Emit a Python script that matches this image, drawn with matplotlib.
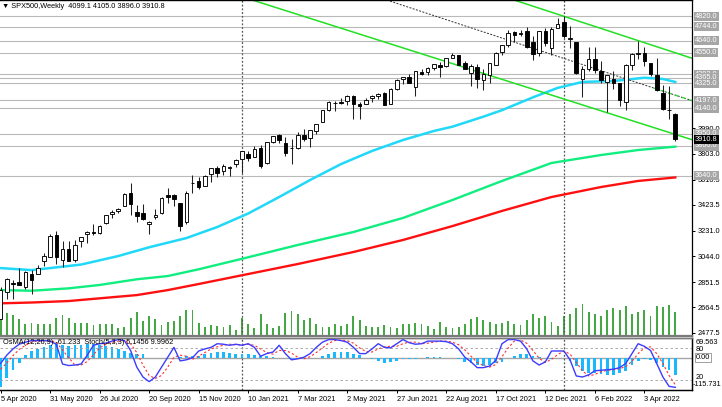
import numpy as np
import pandas as pd
import matplotlib
matplotlib.use("Agg")
import matplotlib.pyplot as plt

plt.rcParams['font.family'] = ['Liberation Sans', 'DejaVu Sans']
plt.rcParams['font.size'] = 5.3

W, H = 722, 407
FS = 5.3

# --- DATA: SPX500 weekly bars, first bar = week of 5 Apr 2020 ---
start_week = "2020-04-05"
opens = [2578, 2782, 2846, 2854, 2815, 2915, 2913, 3005, 3038, 3199,
         3015, 3094, 3018, 3155, 3205, 3224, 3219, 3288, 3356, 3380,
         3418, 3509, 3371, 3363, 3285, 3333, 3367, 3500, 3494, 3441,
         3296, 3583, 3600, 3567, 3654, 3694, 3675, 3694, 3723, 3764,
         3803, 3781, 3842, 3731, 3892, 3939, 3885, 3842, 3844, 3942,
         3916, 3969, 4034, 4124, 4179, 4185, 4192, 4228, 4169, 4170,
         4216, 4229, 4249, 4174, 4284, 4356, 4373, 4296, 4409, 4407,
         4437, 4461, 4450, 4513, 4535, 4474, 4402, 4442, 4348, 4385,
         4463, 4553, 4610, 4701, 4689, 4712, 4628, 4548, 4711, 4587,
         4733, 4778, 4655, 4632, 4356, 4431, 4505, 4412, 4332, 4354,
         4327, 4188, 4462, 4541, 4547, 4474, 4385, 4255, 4130, 4099.1]
highs = [2818, 2879, 2869, 2954, 2932, 2945, 2980, 3068, 3211, 3233,
         3155, 3155, 3165, 3186, 3233, 3280, 3272, 3352, 3387, 3399,
         3509, 3588, 3425, 3428, 3306, 3393, 3482, 3550, 3502, 3441,
         3529, 3645, 3628, 3644, 3699, 3712, 3726, 3711, 3760, 3826,
         3823, 3861, 3870, 3887, 3935, 3950, 3929, 3915, 3960, 3983,
         3978, 4020, 4130, 4191, 4195, 4218, 4238, 4238, 4187, 4213,
         4235, 4250, 4257, 4286, 4355, 4372, 4393, 4415, 4429, 4441,
         4468, 4480, 4509, 4545, 4536, 4486, 4466, 4466, 4429, 4475,
         4559, 4608, 4718, 4714, 4717, 4743, 4672, 4712, 4731, 4740,
         4808, 4819, 4749, 4632, 4454, 4595, 4590, 4490, 4385, 4416,
         4327, 4465, 4546, 4637, 4593, 4475, 4513, 4308, 4307, 4105.0]
lows = [2576, 2730, 2727, 2830, 2798, 2766, 2913, 2969, 3038, 2984,
        2965, 3005, 3000, 3115, 3142, 3200, 3209, 3284, 3325, 3363,
        3418, 3349, 3294, 3313, 3209, 3323, 3354, 3441, 3419, 3233,
        3279, 3511, 3543, 3565, 3594, 3633, 3648, 3636, 3707, 3663,
        3749, 3775, 3694, 3726, 3880, 3885, 3789, 3723, 3836, 3894,
        3853, 3949, 4034, 4119, 4118, 4168, 4160, 4056, 4061, 4170,
        4188, 4210, 4164, 4174, 4278, 4320, 4327, 4233, 4383, 4385,
        4425, 4367, 4448, 4513, 4458, 4428, 4306, 4288, 4278, 4329,
        4460, 4537, 4595, 4630, 4672, 4585, 4495, 4529, 4600, 4531,
        4733, 4662, 4582, 4395, 4222, 4415, 4401, 4327, 4114, 4279,
        4157, 4129, 4424, 4507, 4450, 4381, 4268, 4124, 4062, 3896.0]
closes = [2790, 2875, 2837, 2831, 2930, 2864, 2955, 3044, 3194, 3041,
          3098, 3009, 3130, 3185, 3225, 3216, 3271, 3351, 3373, 3397,
          3508, 3427, 3341, 3319, 3298, 3348, 3477, 3484, 3465, 3270,
          3509, 3585, 3558, 3638, 3699, 3663, 3709, 3703, 3756, 3825,
          3768, 3841, 3714, 3887, 3935, 3907, 3811, 3842, 3943, 3913,
          3975, 4020, 4129, 4185, 4180, 4181, 4233, 4174, 4156, 4204,
          4230, 4247, 4166, 4281, 4352, 4370, 4327, 4412, 4395, 4437,
          4468, 4442, 4509, 4535, 4459, 4433, 4455, 4357, 4391, 4471,
          4545, 4605, 4698, 4683, 4698, 4595, 4538, 4712, 4621, 4726,
          4766, 4677, 4663, 4398, 4432, 4501, 4419, 4349, 4385, 4329,
          4204, 4463, 4543, 4546, 4488, 4393, 4272, 4132, 4123, 3910.8]
# tick volume (thousands)
volume = [220, 230, 210, 170, 120, 130, 120, 120, 120, 180,
          210, 180, 130, 130, 130, 110, 120, 120, 120, 80,
          90, 180, 240, 150, 200, 170, 110, 140, 150, 200,
          260, 260, 130, 90, 110, 100, 90, 110, 60,
          180, 120, 80, 220, 120, 80, 100, 230, 250, 220,
          160, 180, 120, 90, 90, 120, 100, 120, 200, 160,
          100, 90, 90, 110, 90, 80, 120, 120, 130, 120,
          100, 70, 140, 90, 80, 90, 120, 170, 190,
          160, 140, 120, 130, 150, 120, 110, 160, 220, 180,
          200, 140, 100, 200, 220, 280, 320, 240, 220, 200,
          260, 280, 260, 300, 220, 240, 260, 200, 300, 290,
          310, 240]

# moving averages (week index, price)
ma_fast_week = [0, 5, 8, 13, 19, 24, 30, 35, 40, 45, 50, 55, 60, 65, 70, 73,
                78, 81, 86, 90, 94, 99, 104, 107, 109]
ma_fast = [2956, 2941, 2956, 2982, 3045, 3110, 3178, 3260, 3360, 3482, 3608,
           3726, 3823, 3904, 3971, 4003, 4077, 4125, 4220, 4290, 4334, 4341,
           4365, 4356, 4334]
ma_mid_week = [0, 5, 11, 16, 22, 27, 32, 40, 48, 57, 65, 73, 81, 89, 97, 103, 109]
ma_mid = [2793, 2788, 2806, 2831, 2873, 2897, 2947, 3036, 3127, 3223, 3327,
          3460, 3601, 3734, 3793, 3830, 3855]
ma_slow_week = [0, 5, 11, 16, 22, 27, 32, 40, 48, 57, 65, 73, 81, 89, 97, 103, 109]
ma_slow = [2695, 2701, 2712, 2732, 2756, 2793, 2838, 2912, 2986, 3075, 3164,
           3267, 3379, 3482, 3556, 3601, 3627]

# channel lines (week index, price)
channel_upper_week, channel_upper = [83, 112], [4940, 4505]
channel_lower_week, channel_lower = [40.7, 112], [4940, 3902]
channel_mid_week, channel_mid = [62.4, 112], [4940, 4191]
channel_mid_tail_week, channel_mid_tail = [105.5, 112], [4289, 4191]

levels = [4820.0, 4744.0, 4640.0, 4550.0, 4392.0, 4365.0, 4325.0, 4197.0,
          4140.0, 3950.0, 3860.0, 3640.0]
price_ticks = [2477.5, 2664.5, 2851.5, 3044.0, 3231.0, 3423.5, 3610.5, 3803.0, 3990.0]
last_price = 3910.8

osma = [-104, -74, -45, -21, 10, 23, 31, 39, 46, 51,
        44, 42, 44, 46, 49, 49, 46, 42, 38, 31,
        23, 16, 14, 12, 0, -3, -2, -1, 0, 1,
        4, 5, 7, 12, 17, 19, 19, 17, 14, 12,
        12, 10, 7, 5, 2, -2, -3, -4, -4, -4,
        -2, 0, 7, 12, 18, 21, 18, 14, 10, -3,
        -7, -12, -18, -15, -12, -7, -7, -4, -2, 1,
        2, 1, -1, -3, -7, -15, -21, -27, -31, -27,
        -21, -15, -3, 7, 12, 12, 7, 2, -2, -4,
        -3, -2, -12, -31, -47, -54, -56, -58, -62, -62,
        -56, -47, -27, -12, -4, -9, -21, -35, -43, -61.233]
stoch_main = [51, 67, 79, 88, 92, 95, 95, 95, 94, 88,
              50, 47, 48, 50, 67, 86, 89, 90, 94, 97,
              95, 76, 44, 25, 16, 25, 44, 63, 82, 56,
              58, 62, 75, 79, 82, 89, 88, 86, 88, 86,
              89, 82, 65, 70, 73, 86, 70, 58, 60, 63,
              70, 82, 92, 97, 97, 95, 92, 82, 70, 70,
              79, 89, 82, 81, 89, 97, 91, 88, 89, 94,
              94, 94, 93, 89, 79, 63, 54, 43, 43, 46,
              57, 89, 97, 97, 94, 79, 56, 48, 54, 75,
              75, 75, 58, 27, 25, 29, 37, 38, 39, 40,
              43, 51, 70, 89, 84, 76, 51, 25, 7, 5.1456]
stoch_signal = [40, 52, 66, 78, 86, 92, 94, 95, 95, 92,
                77, 62, 48, 48, 55, 68, 81, 88, 91, 94,
                95, 89, 72, 48, 28, 22, 28, 44, 63, 67,
                65, 59, 65, 72, 79, 83, 86, 88, 87, 87,
                88, 86, 79, 72, 69, 76, 76, 71, 63, 60,
                64, 72, 81, 90, 95, 96, 95, 90, 81, 74,
                73, 79, 83, 84, 84, 89, 92, 92, 89, 90,
                92, 94, 94, 92, 87, 77, 65, 53, 47, 44,
                49, 64, 81, 94, 96, 90, 76, 61, 53, 59,
                68, 75, 69, 53, 37, 27, 30, 35, 38, 39,
                41, 45, 55, 70, 81, 83, 70, 51, 28, 9.9962]

date_label_week = [0, 8, 16, 24, 32, 40, 48, 56, 64, 72, 80, 88, 96, 104]
date_labels = ["5 Apr 2020", "31 May 2020", "26 Jul 2020", "20 Sep 2020",
               "15 Nov 2020", "10 Jan 2021", "7 Mar 2021", "2 May 2021",
               "27 Jun 2021", "22 Aug 2021", "17 Oct 2021", "12 Dec 2021",
               "6 Feb 2022", "3 Apr 2022"]

weeks = pd.date_range(start_week, periods=len(closes), freq="W-SUN")
idx = np.arange(len(closes))
o, h, l, c = (np.array(a, dtype=float) for a in (opens, highs, lows, closes))
year_breaks = [i for i in range(1, len(weeks)) if weeks[i].year != weeks[i - 1].year]

X0, X1 = -0.1, 111.7


def px_rect(x0, y0, x1, y1):
    return [x0 / W, 1 - y1 / H, (x1 - x0) / W, (y1 - y0) / H]


fig = plt.figure(figsize=(W / 100, H / 100), dpi=100)

# --- volume layer (behind) ---
ax_v = fig.add_axes(px_rect(0, 0, 692, 336))
ax_v.bar(idx, volume, width=0.3, color='#45a845')
ax_v.set_xlim(X0, X1)
ax_v.set_ylim(0, 3360)
ax_v.axis('off')

# --- main price panel ---
ax = fig.add_axes(px_rect(0, 0, 692, 336))
ax.patch.set_visible(False)
ax.set_xlim(X0, X1)
ax.set_ylim(2453.1, 4940.7)

for lvl in levels:
    ax.axhline(lvl, color='#b9b9b9', lw=0.8, zorder=1)
for yb in year_breaks:
    ax.axvline(yb, color='#555555', lw=0.9, ls=(0, (1.5, 1.5)), zorder=1)

ax.plot(ma_slow_week, ma_slow, color='#ff1010', lw=1.7, zorder=2)
ax.plot(ma_mid_week, ma_mid, color='#10ee80', lw=1.7, zorder=2)
ax.plot(ma_fast_week, ma_fast, color='#20d8f8', lw=1.8, zorder=2)

ax.plot(channel_upper_week, channel_upper, color='#22e022', lw=1.1, zorder=2)
ax.plot(channel_lower_week, channel_lower, color='#22e022', lw=1.1, zorder=2)
ax.plot(channel_mid_week, channel_mid, color='#303030', lw=0.7, ls=(0, (2, 1.5)), zorder=2)
ax.plot(channel_mid_tail_week, channel_mid_tail, color='#22e022', lw=0.9,
        ls=(0, (3, 3)), zorder=2)

up = c >= o
ax.vlines(idx, l, h, color='#202020', lw=0.75, zorder=4)
ax.bar(idx, np.maximum(np.abs(c - o), 2), bottom=np.minimum(o, c), width=0.58,
       color=np.where(up, 'white', 'black'), edgecolor='black', lw=0.65, zorder=5)

ax.set_xticks([])
ax.yaxis.tick_right()
ax.set_yticks(price_ticks)
ax.set_yticklabels([f"{t:.1f}" for t in price_ticks])
ax.tick_params(axis='y', length=2.5, width=0.7, pad=1.5, labelsize=FS)
ax.spines['left'].set_visible(False)
ax.spines['right'].set_linewidth(0.9)
ax.spines['top'].set_linewidth(1.0)
ax.spines['bottom'].set_color('#7a7a7a')
ax.spines['bottom'].set_linewidth(1.6)

for lvl in levels:
    ax.annotate(f"{lvl:.1f}", xy=(1, lvl), xycoords=('axes fraction', 'data'),
                xytext=(3, 0), textcoords='offset pixels', va='center', ha='left',
                color='white', fontsize=FS, annotation_clip=False, zorder=6,
                bbox=dict(boxstyle='square,pad=0.15', fc='#a6a6a6', ec='none'))
ax.annotate(f"{last_price:.1f}", xy=(1, last_price), xycoords=('axes fraction', 'data'),
            xytext=(3, 0), textcoords='offset pixels', va='center', ha='left',
            color='white', fontsize=FS, annotation_clip=False, zorder=7,
            bbox=dict(boxstyle='square,pad=0.15', fc='black', ec='none'))

fig.text(2 / W, 1 - 7 / H, "\u25bc SPX500,Weekly  4099.1 4105.0 3896.0 3910.8",
         va='center', ha='left', fontsize=FS)

# --- indicator panel: OsMA + Stochastic ---
ax_i = fig.add_axes(px_rect(0, 338, 692, 390))
ax_i.set_xlim(X0, X1)
ax_i.set_ylim(-115.731, 69.563)
ax_i.axhline(0, color='#a5a5a5', lw=1.0, zorder=1)
ax_i.bar(idx, osma, width=0.45, color='#1ab8ff', zorder=2)
for yb in year_breaks:
    ax_i.axvline(yb, color='#555555', lw=0.9, ls=(0, (1.5, 1.5)), zorder=1)

ax_s = ax_i.twinx()
ax_s.set_xlim(X0, X1)
ax_s.set_ylim(0, 100)
ax_s.axhline(80, color='#a0a0a0', lw=0.6, ls=(0, (3, 3)))
ax_s.axhline(20, color='#a0a0a0', lw=0.6, ls=(0, (3, 3)))
ax_s.plot(idx, stoch_signal, color='#ff3030', lw=0.8, ls=(0, (2, 2)))
ax_s.plot(idx, stoch_main, color='#3c3cff', lw=1.0)
ax_s.set_yticks([])
for a in (ax_i, ax_s):
    a.spines['left'].set_visible(False)
    a.spines['top'].set_color('#7a7a7a')
    a.spines['top'].set_linewidth(1.0)
    a.spines['right'].set_linewidth(0.9)
    a.spines['bottom'].set_linewidth(0.9)
ax_i.set_yticks([])

ax_i.set_xticks(date_label_week)
ax_i.set_xticklabels(date_labels)
ax_i.tick_params(axis='x', length=2.5, width=0.7, pad=1.5, labelsize=FS)
for lab in ax_i.get_xticklabels():
    lab.set_ha('left')

rt = dict(xycoords=('axes fraction', 'data'), textcoords='offset pixels',
          va='center', ha='left', fontsize=FS, annotation_clip=False)
ax_i.annotate("69.563", xy=(1, 69.563), xytext=(4, -5), **rt)
ax_s.annotate("80", xy=(1, 80), xytext=(4, -1), **rt)
ax_i.annotate("0.00", xy=(1, 0), xytext=(4, 0), **rt,
              bbox=dict(boxstyle='square,pad=0.1', fc='white', ec='#909090', lw=0.6))
ax_s.annotate("20", xy=(1, 20), xytext=(4, 2), **rt)
ax_i.annotate("-115.731", xy=(1, -115.731), xytext=(1, 6), **rt)

fig.text(3 / W, 1 - 342 / H, "OsMA(12,26,9) -61.233  Stoch(5,3,3) 5.1456 9.9962",
         va='center', ha='left', fontsize=FS)

fig.savefig("out.png", dpi=100)
